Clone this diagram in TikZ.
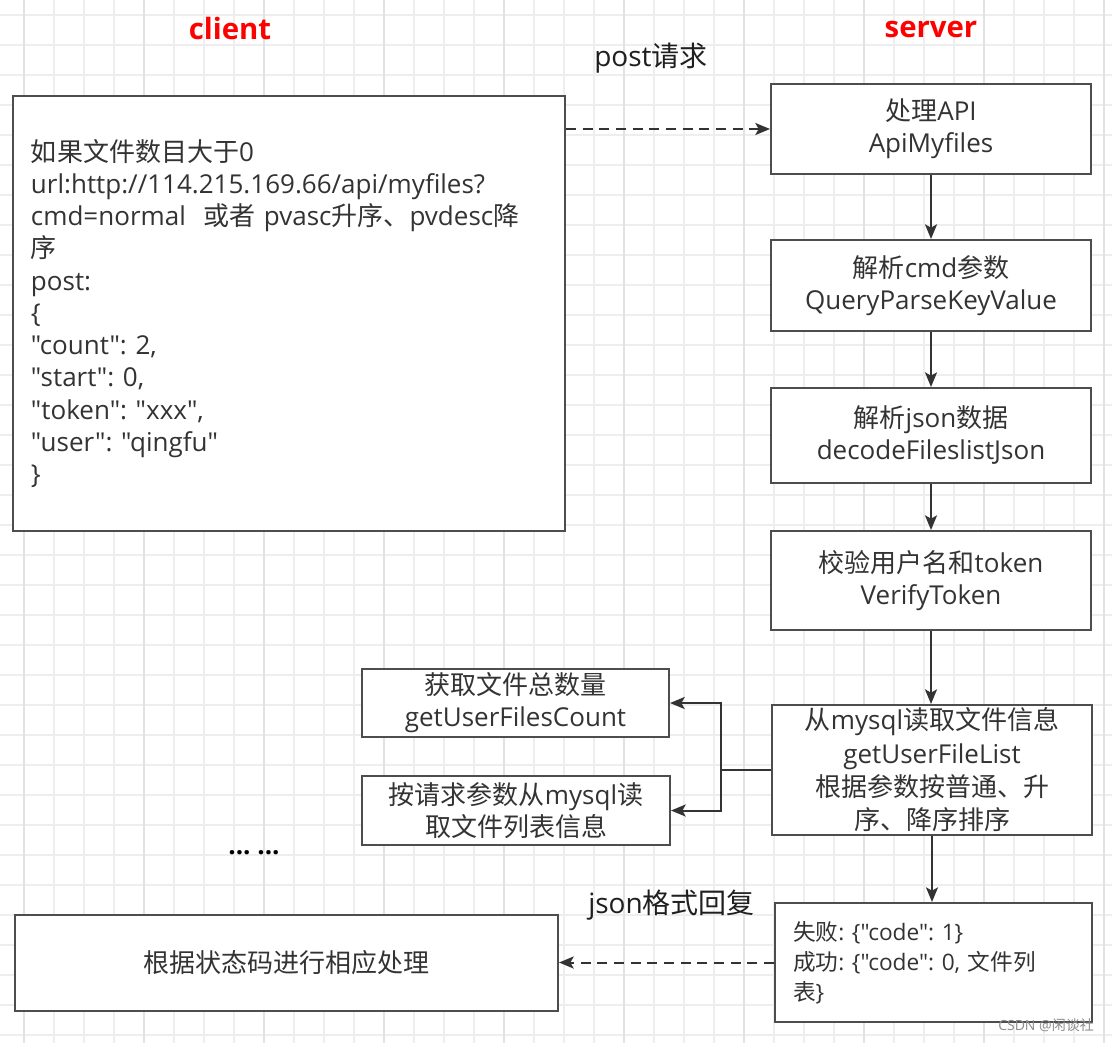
\documentclass[tikz,border=0pt]{standalone}
\usepackage{fontspec}
\newfontfamily\lat{Open Sans}
\newfontfamily\cjkf{Noto Sans CJK SC}
\usetikzlibrary{arrows.meta}
\definecolor{txt}{RGB}{51,51,51}
\definecolor{edge}{RGB}{77,77,77}
\definecolor{arrowc}{RGB}{51,51,51}
\definecolor{gridminor}{RGB}{238,238,238}
\definecolor{gridmajor}{RGB}{226,226,226}
\newcommand\zh[1]{{\cjkf #1}}
\begin{document}
\frenchspacing
\begin{tikzpicture}[x=0.75pt,y=-0.75pt,
  sz/.style 2 args={minimum width={#1*0.75pt}, minimum height={#2*0.75pt}},
  box/.style={draw=edge, line width=1.5pt, fill=white, inner sep=0pt, text=txt,
    align=center, font=\lat\fontsize{19.5}{24}\selectfont},
  conn/.style={draw=arrowc, line width=1.5pt, -{Stealth[length=11pt,width=9pt,inset=2.5pt]}},
  dashconn/.style={conn, dash pattern=on 7.5pt off 5pt},
  plainline/.style={draw=arrowc, line width=1.5pt},
  title/.style={text=red, font=\lat\bfseries\fontsize{22}{26}\selectfont},
  lbl/.style={text=black!88, font=\lat\fontsize{21}{25}\selectfont, inner sep=0pt}
]
\useasboundingbox (0,0) rectangle (1112,1043);
\fill[white] (0,0) rectangle (1112,1043);
% grid
\foreach \k in {0,...,36} {
  \draw[gridminor, line width=0.8pt] ({24+30*\k},0) -- ({24+30*\k},1043);
}
\foreach \k in {0,...,34} {
  \draw[gridminor, line width=0.8pt] (0,{15+30*\k}) -- (1112,{15+30*\k});
}
\foreach \k in {0,...,9} {
  \draw[gridmajor, line width=0.8pt] ({24+120*\k},0) -- ({24+120*\k},1043);
}

% titles
\node[title] (clientlbl) at (230,28) {client};
\node[title] (serverlbl) at (931,29) {server};
\node[lbl, anchor=west] (postlbl) at (594,58) {post\zh{请求}};
\node[lbl, anchor=west] (jsonlbl) at (588,905) {json\zh{格式回复}};

% client box
\node[box, sz={552}{435}, text width={516*0.75pt}, align=left,
      font=\lat\fontsize{19.5}{24.2}\selectfont] (client) at (289,313.5) {%
\zh{如果文件数目大于}0\\
url:http://114.215.169.66/api/myfiles?\\
cmd=normal\ \ \zh{或者} pvasc\zh{升序、}pvdesc\zh{降}\\
\zh{序}\\
post:\\
\{\\
"count": 2,\\
"start": 0,\\
"token": "xxx",\\
"user": "qingfu"\\
\}};

% server boxes
\node[box, sz={320}{90}] (b1) at (931,129) {\zh{处理}API\\ApiMyfiles};
\node[box, sz={320}{91}] (b2) at (931,285.5) {\zh{解析}cmd\zh{参数}\\QueryParseKeyValue};
\node[box, sz={320}{95}] (b3) at (931,435.5) {\zh{解析}json\zh{数据}\\decodeFileslistJson};
\node[box, sz={320}{99}] (b4) at (931,580.5) {\zh{校验用户名和}token\\VerifyToken};
\node[box, sz={320}{130}, font=\lat\fontsize{19.5}{25}\selectfont] (b5) at (932,770)
  {\zh{从}mysql\zh{读取文件信息}\\getUserFileList\\\zh{根据参数按普通、升}\\\zh{序、降序排序}};
\node[box, sz={317}{119}, text width={281*0.75pt}, align=left,
      font=\lat\fontsize{17}{22.5}\selectfont] (b6) at (933.5,962.5)
  {\zh{失败}: \{"code": 1\}\\\zh{成功}: \{"code": 0, \zh{文件列}\\\zh{表}\}};

% left boxes
\node[box, sz={307}{68}] (l1) at (515.5,703) {\zh{获取文件总数量}\\getUserFilesCount};
\node[box, sz={308}{69}] (l2) at (516,810.5) {\zh{按请求参数从}mysql\zh{读}\\\zh{取文件列表信息}};
\node[box, sz={543}{96}] (res) at (286.5,963) {\zh{根据状态码进行相应处理}};

% dots and watermark
\node[text=black, font=\lat\bfseries\fontsize{19.5}{24}\selectfont] (dots) at (254,853) {... ...};
\node[text=black!45, font=\lat\fontsize{10.5}{12}\selectfont, inner sep=0pt] (wm) at (1046,1025) {CSDN @\zh{闲谈社}};

% connectors
\draw[dashconn] (client.east |- b1.west) -- (b1.west);
\draw[conn] (b1.south) -- (b2.north);
\draw[conn] (b2.south) -- (b3.north);
\draw[conn] (b3.south) -- (b4.north);
\draw[conn] (b4.south) -- (b4.south |- b5.north);
\draw[conn] (b5.south) -- (b5.south |- b6.north);
\coordinate (j) at (721,770);
\draw[plainline] (b5.west) -- (j);
\draw[conn] (j) |- (l1.east);
\draw[conn] (j) |- (l2.east);
\draw[dashconn] (b6.west) -- (res.east |- b6.west);
\end{tikzpicture}
\end{document}
